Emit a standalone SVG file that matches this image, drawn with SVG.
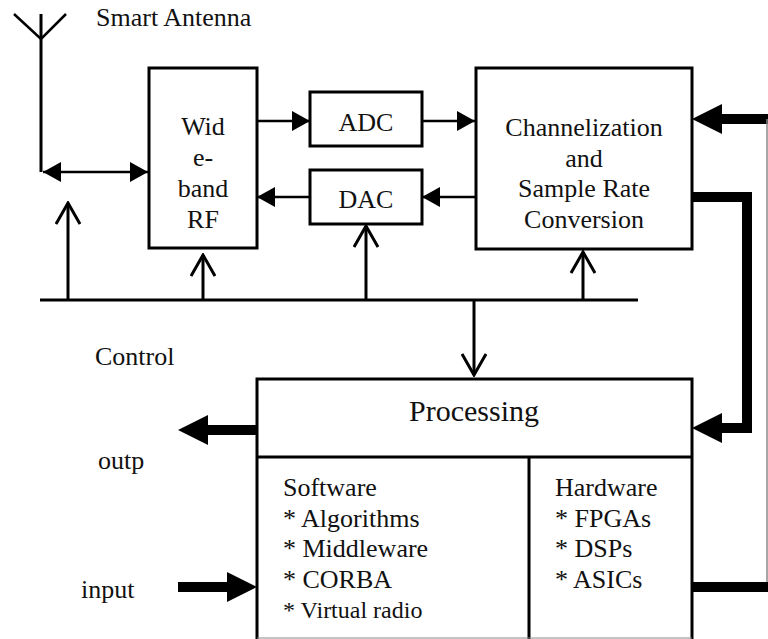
<svg xmlns="http://www.w3.org/2000/svg" width="768" height="639" viewBox="0 0 768 639">
<defs>
<marker id="fa" viewBox="0 0 18 20" refX="18" refY="10" markerWidth="18" markerHeight="20" markerUnits="userSpaceOnUse" orient="auto-start-reverse">
<path d="M0,0 L18,10 L0,20 z" fill="#000"/>
</marker>
<marker id="oa" viewBox="0 0 24 26" refX="22" refY="13" markerWidth="24" markerHeight="26" markerUnits="userSpaceOnUse" orient="auto">
<path d="M1,1 L22,13 L1,25" fill="none" stroke="#000" stroke-width="3"/>
</marker>
<marker id="ta" viewBox="0 0 30 30" refX="5" refY="15" markerWidth="30" markerHeight="30" markerUnits="userSpaceOnUse" orient="auto">
<path d="M0,0 L30,15 L0,30 z" fill="#000"/>
</marker>
</defs>
<rect width="768" height="639" fill="#fff"/>

<g id="antenna">
<path d="M41,14 V172" fill="none" stroke="#000" stroke-width="3"/>
<path d="M14,14 L41,39 L66,14" fill="none" stroke="#000" stroke-width="2.5"/>
<text x="96" y="26" font-family="Liberation Serif" font-size="26" fill="#111">Smart Antenna</text>
</g>

<g id="rf">
<rect x="149" y="68" width="108" height="180" fill="#fff" stroke="#000" stroke-width="3"/>
<text x="203" y="135" font-family="Liberation Serif" font-size="26" fill="#111" text-anchor="middle">Wid</text>
<text x="203" y="166" font-family="Liberation Serif" font-size="26" fill="#111" text-anchor="middle">e-</text>
<text x="203" y="197" font-family="Liberation Serif" font-size="26" fill="#111" text-anchor="middle">band</text>
<text x="203" y="228" font-family="Liberation Serif" font-size="26" fill="#111" text-anchor="middle">RF</text>
</g>

<g id="adc">
<rect x="310" y="92" width="112" height="54" fill="#fff" stroke="#000" stroke-width="3"/>
<text x="366" y="131" font-family="Liberation Serif" font-size="26" fill="#111" text-anchor="middle">ADC</text>
</g>

<g id="dac">
<rect x="310" y="170" width="112" height="54" fill="#fff" stroke="#000" stroke-width="3"/>
<text x="366" y="208" font-family="Liberation Serif" font-size="26" fill="#111" text-anchor="middle">DAC</text>
</g>

<g id="chan">
<rect x="476" y="68" width="216" height="181" fill="#fff" stroke="#000" stroke-width="3"/>
<text x="584" y="136" font-family="Liberation Serif" font-size="26" fill="#111" text-anchor="middle">Channelization</text>
<text x="584" y="167" font-family="Liberation Serif" font-size="26" fill="#111" text-anchor="middle">and</text>
<text x="584" y="197" font-family="Liberation Serif" font-size="26" fill="#111" text-anchor="middle">Sample Rate</text>
<text x="584" y="228" font-family="Liberation Serif" font-size="26" fill="#111" text-anchor="middle">Conversion</text>
</g>

<g id="processing">
<rect x="257" y="379" width="435" height="264" fill="#fff" stroke="#000" stroke-width="3"/>
<path d="M257,457 H692 M529,457 V641" fill="none" stroke="#000" stroke-width="3"/>
<path d="M257,638 H692" fill="none" stroke="#888" stroke-width="1"/>
<text x="474" y="421" font-family="Liberation Serif" font-size="30" fill="#111" text-anchor="middle">Processing</text>
<text x="283" y="496" font-family="Liberation Serif" font-size="26" fill="#111">Software</text>
<text x="283" y="527" font-family="Liberation Serif" font-size="26" fill="#111">* Algorithms</text>
<text x="283" y="557" font-family="Liberation Serif" font-size="26" fill="#111">* Middleware</text>
<text x="283" y="588" font-family="Liberation Serif" font-size="26" fill="#111">* CORBA</text>
<text x="283" y="618" font-family="Liberation Serif" font-size="24" fill="#111">* Virtual radio</text>
<text x="555" y="496" font-family="Liberation Serif" font-size="26" fill="#111">Hardware</text>
<text x="555" y="527" font-family="Liberation Serif" font-size="26" fill="#111">* FPGAs</text>
<text x="555" y="557" font-family="Liberation Serif" font-size="26" fill="#111">* DSPs</text>
<text x="555" y="588" font-family="Liberation Serif" font-size="26" fill="#111">* ASICs</text>
</g>

<g id="labels">
<text x="95" y="365" font-family="Liberation Serif" font-size="26" fill="#111">Control</text>
<text x="98" y="469" font-family="Liberation Serif" font-size="26" fill="#111">outp</text>
<text x="81" y="598" font-family="Liberation Serif" font-size="26" fill="#111">input</text>
</g>

<g id="connectors" fill="none" stroke="#000">
<path d="M43,172 H148" stroke-width="2.5" marker-start="url(#fa)" marker-end="url(#fa)"/>
<path d="M257,121 H310" stroke-width="2.5" marker-end="url(#fa)"/>
<path d="M422,121 H475" stroke-width="2.5" marker-end="url(#fa)"/>
<path d="M475,197 H422" stroke-width="2.5" marker-end="url(#fa)"/>
<path d="M310,197 H257" stroke-width="2.5" marker-end="url(#fa)"/>
<path d="M40,300 H638" stroke-width="3"/>
<path d="M68,300 V203" stroke-width="3" marker-end="url(#oa)"/>
<path d="M203,300 V255" stroke-width="3" marker-end="url(#oa)"/>
<path d="M366,300 V226" stroke-width="3" marker-end="url(#oa)"/>
<path d="M583,300 V252" stroke-width="3" marker-end="url(#oa)"/>
<path d="M474,300 V375" stroke-width="3" marker-end="url(#oa)"/>
<path d="M692,197 H747 V428 H717" stroke-width="10" marker-end="url(#ta)"/>
<path d="M768,119 H717" stroke-width="10" marker-end="url(#ta)"/>
<path d="M767,119 V587" stroke="#888" stroke-width="1.5"/>
<path d="M692,587 H768" stroke-width="10"/>
<path d="M257,430 H203" stroke-width="10" marker-end="url(#ta)"/>
<path d="M178,587 H232" stroke-width="10" marker-end="url(#ta)"/>
</g>
</svg>
